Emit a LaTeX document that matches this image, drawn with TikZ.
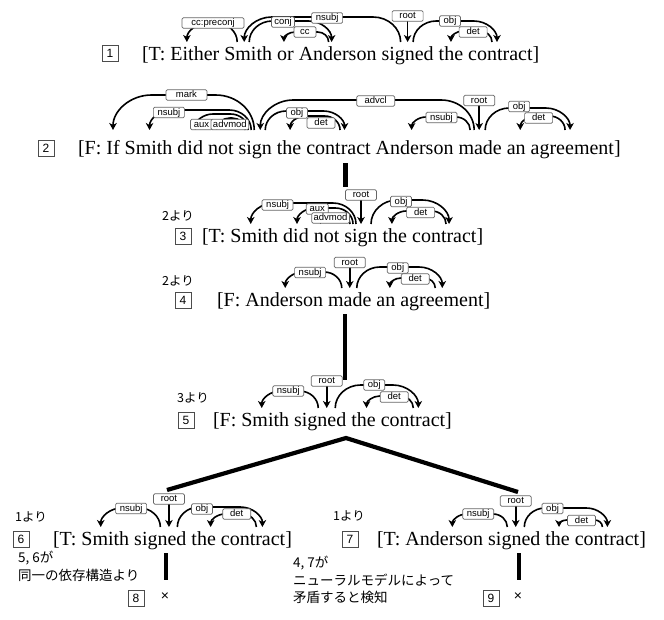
\documentclass[tikz,border=0pt]{standalone}
\usepackage{fontspec}
\setmainfont{Liberation Serif}
\newfontfamily\LabFam{Liberation Sans}
\newfontfamily\JpFam{Noto Sans CJK JP}
\usetikzlibrary{arrows.meta,positioning,calc}
\pgfdeclarelayer{fg}
\pgfsetlayers{main,fg}
\newcounter{lbc}
\newcommand\SentFont{\fontsize{20}{24}\selectfont}
\newcommand\LabFont{\LabFam\fontsize{9.5}{11}\selectfont}
\newcommand\NumFont{\LabFam\fontsize{12}{14}\selectfont}
\newcommand\JpFont{\JpFam\fontsize{12.5}{15}\selectfont}
\newcommand\NoteFont{\JpFam\fontsize{13.5}{17.5}\selectfont}
\def\arcB{18}
\tikzset{
  wd/.style={font=\SentFont, inner sep=0pt, outer sep=0pt},
  arc/.style={line width=1.6pt, -{Stealth[length=7pt,width=7.5pt,inset=2pt]}},
  lab/.style={draw=black!60, line width=0.7pt, fill=white, rounded corners=1.3pt,
    font=\LabFont, inner xsep=2pt, inner ysep=0.8pt, text height=7pt, text depth=1.8pt},
  lw/mark/.style={minimum width=41pt},
  lw/advcl/.style={minimum width=38pt},
  lw/det/.style={minimum width=28pt},
  lw/root/.style={minimum width=31pt},
  lw/cc/.style={minimum width=22pt},
  lw/cc:preconj/.style={minimum width=62pt},
  lw/nsubj/.style={minimum width=31pt},
  lw/obj/.style={minimum width=21pt},
  lw/aux/.style={minimum width=22pt},
  lw/advmod/.style={minimum width=37pt},
  lw/conj/.style={minimum width=23pt},
  numbox/.style={draw=black!70, line width=0.7pt, fill=white, minimum width=16pt,
    minimum height=16pt, inner sep=0pt, font=\NumFont},
  tree/.style={line width=4.2pt, line join=miter},
  jp/.style={font=\JpFont, inner sep=0pt, anchor=west},
  note/.style={font=\NoteFont, inner sep=0pt, anchor=north west, align=left},
  cross/.style={font=\LabFam\fontsize{14}{16}\selectfont, inner sep=0pt},
}
% sentence made of word nodes
\newcommand\Sentence[4]{%
  \foreach \w [count=\i] in {#4}{%
    \ifnum\i=1\relax
      \node[wd, anchor=base west] (#1\i) at (#2,#3) {\w};
    \else
      \pgfmathtruncatemacro\prv{\i-1}%
      \node[wd, base right=5pt of #1\prv] (#1\i) {\w};
    \fi
  }%
}
% dependency arc: head, head dx, dependent, dep dx, top y, label, label fraction, label y
\newcommand\Dep[8]{%
  \draw[arc] let \p1=(#1.base), \p2=(#3.base),
    \n1={\x1+(#2)}, \n2={\x2+(#4)}, \n3={\y1+\arcB}, \n4={\y2+\arcB},
    \n7={-#5*1pt}, \n5={(\n2>\n1)?1:-1}, \n6={min(abs(\n2-\n1)/2,1.1*(\n7-\n3))} in
    ({\n1*1pt},{\n3*1pt}) .. controls ({\n1*1pt},{(\n3+0.55*(\n7-\n3))*1pt})
      and ({(\n1+0.45*\n5*\n6)*1pt},{\n7*1pt}) .. ({(\n1+\n5*\n6)*1pt},{\n7*1pt})
    -- ({(\n2-\n5*\n6)*1pt},{\n7*1pt}) .. controls ({(\n2-0.45*\n5*\n6)*1pt},{\n7*1pt})
      and ({\n2*1pt},{(\n4+0.55*(\n7-\n4))*1pt}) .. ({\n2*1pt},{\n4*1pt})
    coordinate (lbpos) at ({(\n1+#7*(\n2-\n1))*1pt},{-#8*1pt});
  \stepcounter{lbc}\edef\LbName{lb\arabic{lbc}}%
  \begin{pgfonlayer}{fg}\node[lab, lw/#6] (\LbName) at (lbpos) {#6};\end{pgfonlayer}%
}
% root arrow: word, dx, label y
\newcommand\RootArc[3]{%
  \draw[arc] let \p1=(#1.base), \n1={\x1+(#2)}, \n3={\y1+\arcB} in
    ({\n1*1pt},{-#3*1pt}) -- ({\n1*1pt},{\n3*1pt})
    coordinate (lbpos) at ({\n1*1pt},{-#3*1pt});
  \stepcounter{lbc}\edef\LbName{lb\arabic{lbc}}%
  \begin{pgfonlayer}{fg}\node[lab, lw/root] (\LbName) at (lbpos) {root};\end{pgfonlayer}%
}
\begin{document}
\begin{tikzpicture}[x=1pt,y=-1pt]
\useasboundingbox (0,0) rectangle (664,619);
\fill[white] (0,0) rectangle (664,619);

% ---------- sentence 1
\node[numbox] (n1) at (110,53) {1};
\Sentence{a}{142}{60}{[T:,Either,Smith,or,Anderson,signed,the,contract]}
\Dep{a3}{-11}{a2}{-8}{23}{cc:preconj}{0.48}{23}
\Dep{a3}{1}{a5}{-6}{21}{conj}{0.41}{22}
\Dep{a5}{-9}{a4}{-1.5}{32}{cc}{0.53}{32}
\Dep{a6}{-7}{a3}{-4}{17}{nsubj}{0.47}{18}
\RootArc{a6}{0}{16}
\Dep{a6}{5.5}{a8}{-6.7}{21}{obj}{0.44}{21}
\Dep{a8}{-11.7}{a7}{0}{31}{det}{0.46}{32}

% ---------- sentence 2
\def\arcB{24}
\node[numbox] (n2) at (46,148) {2};
\Sentence{b}{78}{154}{[F:,If,Smith,did,not,sign,the,contract,Anderson,made,an,agreement]}
\Dep{b6}{-1}{b2}{0}{95}{mark}{0.48}{95}
\Dep{b6}{-4}{b3}{1}{110}{nsubj}{0.81}{112.5}
\Dep{b6}{-7}{b4}{5}{114}{aux}{0.88}{124.5}
\Dep{b6}{-10}{b5}{-4}{118}{advmod}{0.54}{124.5}
\Dep{b10}{-6}{b6}{5}{100}{advcl}{0.46}{101}
\Dep{b6}{10}{b8}{6}{111}{obj}{0.4}{113}
\Dep{b8}{1.5}{b7}{1}{116}{det}{0.38}{123}
\Dep{b10}{-10}{b9}{-3}{117}{nsubj}{0.49}{117.5}
\RootArc{b10}{-1}{100.5}
\Dep{b10}{5}{b12}{-5.6}{108}{obj}{0.4}{106.5}
\Dep{b12}{-10.6}{b11}{4}{116}{det}{0.59}{118}
\def\arcB{18}

% ---------- sentence 3
\node[jp] (r3) at (162,216) {2より};
\node[numbox] (n3) at (183,236) {3};
\Sentence{c}{202}{242}{[T:,Smith,did,not,sign,the,contract]}
\Dep{c5}{-5}{c2}{-3.6}{203}{nsubj}{0.745}{205}
\Dep{c5}{-8}{c3}{1}{208}{aux}{0.64}{209}
\Dep{c5}{-11}{c4}{-6}{214}{advmod}{0.66}{218}
\RootArc{c5}{0}{195}
\Dep{c5}{10}{c7}{1.4}{200}{obj}{0.385}{201.5}
\Dep{c7}{-1.6}{c6}{-3}{211}{det}{0.47}{212.5}

% ---------- sentence 4
\node[jp] (r4) at (162,281) {2より};
\node[numbox] (n4) at (183,300) {4};
\Sentence{d}{217}{306}{[F:,Anderson,made,an,agreement]}
\Dep{d3}{-8}{d2}{1}{272}{nsubj}{0.56}{272.5}
\RootArc{d3}{0}{262.5}
\Dep{d3}{7}{d5}{-3}{267}{obj}{0.48}{268}
\Dep{d5}{-10}{d4}{4}{278}{det}{0.44}{279}

% ---------- sentence 5
\node[jp] (r5) at (177,397.5) {3より};
\node[numbox] (n5) at (186,420) {5};
\Sentence{e}{213}{426}{[F:,Smith,signed,the,contract]}
\Dep{e3}{-2}{e2}{-3.5}{391}{nsubj}{0.53}{391}
\RootArc{e3}{6.5}{381}
\Dep{e3}{15}{e5}{2}{385}{obj}{0.47}{385}
\Dep{e5}{-3}{e4}{3}{396}{det}{0.41}{397}

% ---------- sentence 6
\node[jp] (r6) at (15,517) {1より};
\node[numbox] (n6) at (21,539) {6};
\Sentence{f}{53}{545}{[T:,Smith,signed,the,contract]}
\Dep{f3}{0}{f2}{-4.6}{508}{nsubj}{0.49}{508.5}
\RootArc{f3}{8.6}{499}
\Dep{f3}{17}{f5}{6}{507}{obj}{0.29}{509}
\Dep{f5}{0}{f4}{7}{514}{det}{0.43}{514}

% ---------- sentence 7
\node[jp] (r7) at (333,516) {1より};
\node[numbox] (n7) at (350,539) {7};
\Sentence{g}{377}{545}{[T:,Anderson,signed,the,contract]}
\Dep{g3}{-7}{g2}{8}{514}{nsubj}{0.53}{514}
\RootArc{g3}{1.4}{501}
\Dep{g3}{10}{g5}{-3}{508}{obj}{0.34}{508.5}
\Dep{g5}{-8}{g4}{1.4}{520}{det}{0.48}{520.5}

% ---------- bottom notes and results
\node[note] (nt1) at (18,551) {5, 6が\\同一の依存構造より};
\node[note] (nt2) at (293,556) {4, 7が\\ニューラルモデルによって\\矛盾すると検知};
\node[numbox] (n8) at (136,598) {8};
\node[numbox] (n9) at (491,598) {9};
\node[cross] (x8) at (165,597) {×};
\node[cross] (x9) at (518,597) {×};

% ---------- proof tree lines
\coordinate (t1a) at (345.5,163);
\coordinate (t1b) at (345.5,187);
\coordinate (t2a) at (345,314);
\coordinate (t2b) at (345,380);
\coordinate (ap) at (346,438);
\coordinate (t3l) at (167,490);
\coordinate (t3r) at (518,492);
\coordinate (t4a) at (166,553);
\coordinate (t4b) at (166,580);
\coordinate (t5a) at (519,553);
\coordinate (t5b) at (519,580);
\draw[tree] (t1a) -- (t1b);
\draw[tree] (t2a) -- (t2b);
\draw[tree] (t3l) -- (ap) -- (t3r);
\draw[tree] (t4a) -- (t4b);
\draw[tree] (t5a) -- (t5b);
\end{tikzpicture}
\end{document}
